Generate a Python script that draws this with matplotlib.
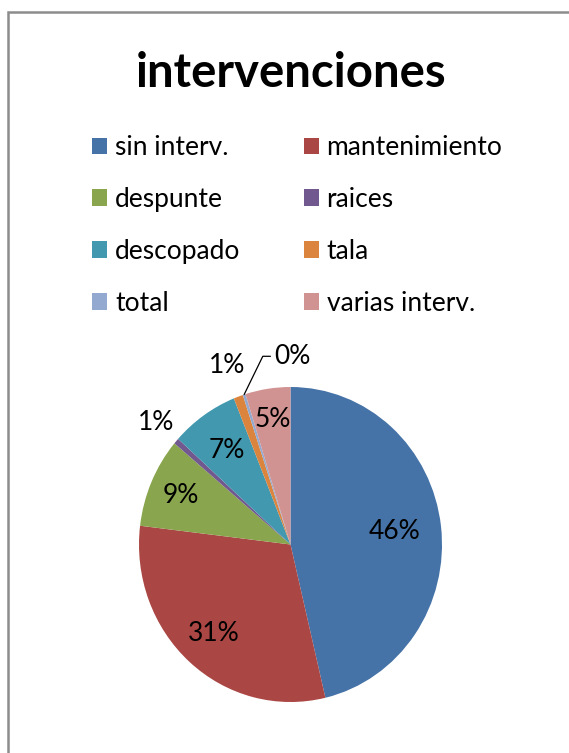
import numpy as np
import matplotlib.pyplot as plt
from matplotlib.patches import Rectangle

labels = ['sin interv.', 'mantenimiento', 'despunte', 'raices',
          'descopado', 'tala', 'total', 'varias interv.']
values = [46.3, 30.6, 9.2, 0.6, 7.2, 1.0, 0.3, 4.8]
colors = ['#4572A7', '#AA4643', '#89A54E', '#71588F',
          '#4198AF', '#DB843D', '#93A9CF', '#D19392']
# distancia de cada etiqueta al centro (radio = 1)
label_r = [0.69, 0.76, 0.79, 1.18, 0.73, 1.21, 1.2, 0.80]

plt.rcParams['font.family'] = ['Lato', 'DejaVu Sans']

fig = plt.figure(figsize=(5.69, 7.53), dpi=100)

# marco gris del gráfico
fig.add_artist(Rectangle((8 / 569, -0.05), 1.2, 1 - 12 / 753 + 0.05,
                         transform=fig.transFigure, fill=False,
                         edgecolor='#8c8c8c', linewidth=1.8))

fig.text(291 / 569, 1 - 87 / 753, 'intervenciones', ha='center', va='baseline',
         fontsize=34, fontweight='bold')

# el gráfico original está un poco estirado en vertical
ax = fig.add_axes([139 / 569, 51 / 753, 303 / 569, 315 / 753])
wedges, _ = ax.pie(values, colors=colors, startangle=90, counterclock=False,
                   radius=1, wedgeprops=dict(linewidth=0))
ax.set_xlim(-1, 1)
ax.set_ylim(-1, 1)
ax.set_aspect('auto')
ax.axis('off')

total = sum(values)
for w, v, r, name in zip(wedges, values, label_r, labels):
    ang = np.deg2rad((w.theta1 + w.theta2) / 2)
    txt = '%d%%' % round(v / total * 100)
    if name == 'total':
        # etiqueta con línea guía
        x0, y0 = np.cos(ang), np.sin(ang)
        ax.annotate(txt, xy=(x0, y0), xytext=(-0.105, 1.195),
                    ha='left', va='center', fontsize=19,
                    arrowprops=dict(arrowstyle='-', color='black', lw=0.9,
                                    connectionstyle='angle,angleA=0,angleB=64,rad=0',
                                    shrinkA=1, shrinkB=0))
    else:
        ax.text(r * np.cos(ang), r * np.sin(ang), txt, ha='center', va='center',
                fontsize=19)

order = [0, 2, 4, 6, 1, 3, 5, 7]
fig.legend([wedges[i] for i in order], [labels[i] for i in order],
           ncol=2, loc='upper left', bbox_to_anchor=(92 / 569, 1 - 135 / 753),
           frameon=False, fontsize=19, handlelength=0.57, handleheight=0.57,
           handletextpad=0.3, columnspacing=2.4, labelspacing=1.02,
           borderpad=0, borderaxespad=0)

fig.savefig('out.png', dpi=100)
